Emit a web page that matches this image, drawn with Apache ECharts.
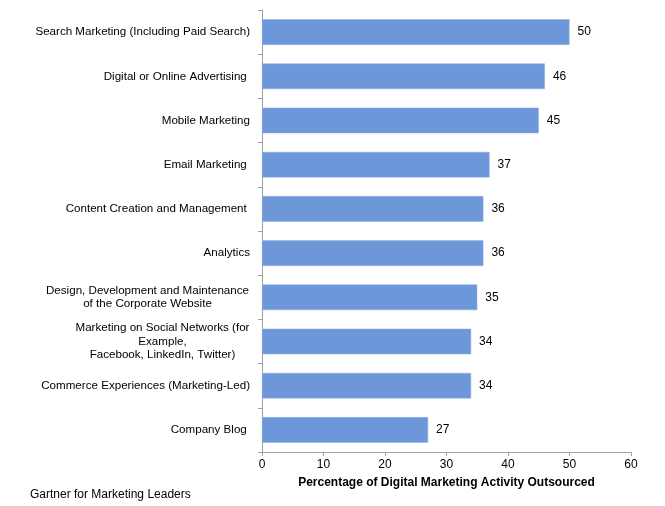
<!DOCTYPE html>
<html>
<head>
<meta charset="utf-8">
<script src="https://cdn.jsdelivr.net/npm/echarts@6/dist/echarts.min.js"></script>
<style>
html,body{margin:0;padding:0;background:#fff;}
#chart{width:665px;height:506px;}
</style>
</head>
<body>
<div id="chart"></div>
<script>
var categories = [
  "Search Marketing (Including Paid Search)",
  "Digital or Online Advertising ",
  "Mobile Marketing",
  "Email Marketing ",
  "Content Creation and Management ",
  "Analytics",
  "Design, Development and Maintenance\nof the Corporate Website",
  "Marketing on Social Networks (for\nExample,\nFacebook, LinkedIn, Twitter)",
  "Commerce Experiences (Marketing-Led)",
  "Company Blog "
];
var values = [50, 46, 45, 37, 36, 36, 35, 34, 34, 27];
var xTicks = [0, 10, 20, 30, 40, 50, 60];
var xAxisTitle = "Percentage of Digital Marketing Activity Outsourced";
var sourceNote = "Gartner for Marketing Leaders";

var FONT = "'Liberation Sans', Arial, sans-serif";
var CAT_SIZE = 11.6;
var ctx = document.createElement('canvas').getContext('2d');
ctx.font = CAT_SIZE + "px " + FONT;

// build rich styles (one per multi-line label) so lines are centred in their block
var rich = {};
var richKeyOf = {};
categories.forEach(function (v, i) {
  if (v.indexOf('\n') < 0) return;
  var w = 0;
  v.split('\n').forEach(function (l) { w = Math.max(w, ctx.measureText(l).width); });
  var key = 'm' + i;
  richKeyOf[v] = key;
  rich[key] = { width: Math.ceil(w) + 1, align: 'center', fontSize: CAT_SIZE, lineHeight: 13.5, color: '#000', fontFamily: FONT };
});

var chart = echarts.init(document.getElementById('chart'));
chart.setOption({
  animation: false,
  backgroundColor: '#ffffff',
  textStyle: { fontFamily: FONT },
  grid: { left: 262, right: 34, top: 10, bottom: 54, containLabel: false },
  xAxis: {
    type: 'value',
    min: xTicks[0],
    max: xTicks[xTicks.length - 1],
    interval: xTicks[1] - xTicks[0],
    name: xAxisTitle,
    nameLocation: 'middle',
    nameGap: 25,
    nameTextStyle: { color: '#000', fontSize: 12, fontWeight: 'bold', fontFamily: FONT },
    axisLine: { show: true, lineStyle: { color: '#a0a0a0', width: 1 } },
    axisTick: { show: true, length: 4, lineStyle: { color: '#a0a0a0' } },
    splitLine: { show: false },
    axisLabel: { color: '#000', fontSize: 12, margin: 7, fontFamily: FONT }
  },
  yAxis: {
    type: 'category',
    inverse: true,
    data: categories,
    axisLine: { show: true, lineStyle: { color: '#a0a0a0', width: 1 } },
    axisTick: { show: true, length: 4, lineStyle: { color: '#a0a0a0' } },
    axisLabel: {
      color: '#000',
      fontSize: CAT_SIZE,
      margin: 12,
      lineHeight: 13.5,
      fontFamily: FONT,
      formatter: function (v) {
        var key = richKeyOf[v];
        if (!key) return v;
        return v.split('\n').map(function (l) { return '{' + key + '|' + l + '}'; }).join('\n');
      },
      rich: rich
    }
  },
  series: [{
    type: 'bar',
    data: values,
    barCategoryGap: '42%',
    itemStyle: { color: '#6e97d9', borderColor: '#8fb0e6', borderWidth: 0.5 },
    label: {
      show: true,
      position: 'right',
      distance: 8,
      color: '#000',
      fontSize: 12,
      fontFamily: FONT
    }
  }],
  graphic: [{
    type: 'text',
    left: 30,
    top: 489,
    style: { text: sourceNote, fill: '#000', fontSize: 12, fontFamily: FONT }
  }]
});
</script>
</body>
</html>
